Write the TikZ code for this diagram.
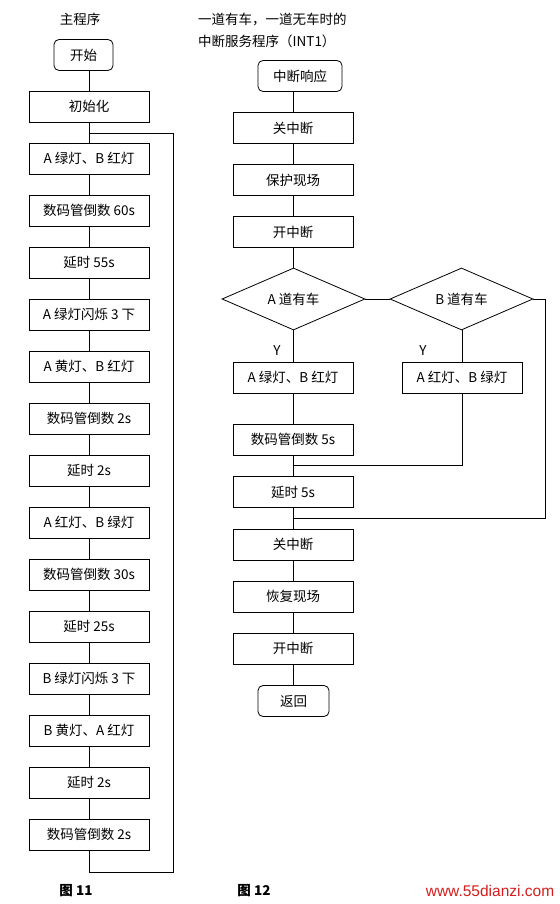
\documentclass[tikz,border=0pt]{standalone}
\usepackage{fontspec}
\setmainfont{Noto Sans CJK SC}
\newfontfamily\webfont{Liberation Sans}
\usetikzlibrary{shapes.geometric}
\definecolor{webred}{RGB}{210,30,30}
\tikzset{
  x=1pt,y=-1pt,
  every node/.style={font=\fontsize{13.5}{15}\selectfont, inner sep=0pt},
  proc/.style={draw, line width=0.8pt, minimum width=120pt, minimum height=31pt},
  term/.style={draw, line width=0.8pt, rounded corners=5pt, minimum height=31pt},
  cond/.style={draw, line width=0.8pt, diamond, aspect=2.3, minimum width=143pt, minimum height=62pt},
  link/.style={line width=0.8pt},
  figcap/.style={font=\fontsize{13.5}{15}\selectfont\bfseries},
}
\begin{document}
\begin{tikzpicture}
\useasboundingbox (0,0) rectangle (559,904);
% ---------- left: main program ----------
\node (t1) at (80,19) {主程序};
\node[term, minimum width=59pt] (start) at (83.5,55) {开始};
\foreach \n/\t [count=\i from 0] in {
  init/初始化,
  l1/A 绿灯、B 红灯,
  l2/数码管倒数 60s,
  l3/延时 55s,
  l4/A 绿灯闪烁 3 下,
  l5/A 黄灯、B 红灯,
  l6/数码管倒数 2s,
  l7/延时 2s,
  l8/A 红灯、B 绿灯,
  l9/数码管倒数 30s,
  l10/延时 25s,
  l11/B 绿灯闪烁 3 下,
  l12/B 黄灯、A 红灯,
  l13/延时 2s,
  l14/数码管倒数 2s}
{
  \node[proc] (\n) at (89,{106.5+52*\i}) {\t};
}
\draw[link] (init.north |- start.south) -- (init.north);
\draw[link] (init) -- (l1);
\foreach \a/\b in {l1/l2,l2/l3,l3/l4,l4/l5,l5/l6,l6/l7,l7/l8,l8/l9,l9/l10,l10/l11,l11/l12,l12/l13,l13/l14}
  \draw[link] (\a) -- (\b);
\coordinate (lbot) at (89,872);
\coordinate (lbr) at (173,872);
\coordinate (ltr) at (173,133);
\coordinate (ltl) at (89,133);
\draw[link] (l14.south) -- (lbot) -- (lbr) -- (ltr) -- (ltl);
\node[figcap] (c1) at (76,891) {图 11};
% ---------- right: interrupt routine ----------
\node[anchor=west] (t2a) at (198,20) {一道有车，一道无车时的};
\node[anchor=west] (t2b) at (198,41) {中断服务程序（INT1）};
\node[term, minimum width=84pt] (resp) at (300,76) {中断响应};
\node[proc] (gz1) at (293,128) {关中断};
\node[proc] (bh) at (293,180) {保护现场};
\node[proc] (kz1) at (293,232) {开中断};
\node[cond] (da) at (293.5,299) {A 道有车};
\node[cond] (db) at (461.5,299) {B 道有车};
\node[proc] (ag) at (293,377.5) {A 绿灯、B 红灯};
\node[proc] (ar) at (462,377.5) {A 红灯、B 绿灯};
\node[proc] (sm5) at (293,439.5) {数码管倒数 5s};
\node[proc] (ys5) at (293,492) {延时 5s};
\node[proc] (gz2) at (293,544.5) {关中断};
\node[proc] (hf) at (293,596.5) {恢复现场};
\node[proc] (kz2) at (293,648.5) {开中断};
\node[term, minimum width=71pt] (ret) at (293.5,701) {返回};
\node (ya) at (277,351) {Y};
\node (yb) at (423,351) {Y};
\draw[link] (gz1.north |- resp.south) -- (gz1.north);
\draw[link] (gz1) -- (bh);
\draw[link] (bh) -- (kz1);
\draw[link] (kz1.south) -- (kz1.south |- da.north);
\draw[link] (da.east) -- (db.west);
\draw[link] (da.south -| ag.north) -- (ag.north);
\draw[link] (db.south -| ar.north) -- (ar.north);
\draw[link] (ag) -- (sm5);
\draw[link] (sm5) -- (ys5);
\draw[link] (ys5) -- (gz2);
\draw[link] (gz2) -- (hf);
\draw[link] (hf) -- (kz2);
\draw[link] (kz2.south) -- (kz2.south |- ret.north);
\coordinate (bj) at (462,465);
\coordinate (bjl) at (293,465);
\draw[link] (ar.south) -- (bj) -- (bjl);
\coordinate (re) at (545,299);
\coordinate (rb) at (545,518);
\coordinate (rbl) at (293,518);
\draw[link] (db.east) -- (re) -- (rb) -- (rbl);
\node[figcap] (c2) at (254,891) {图 12};
\node[font=\webfont\fontsize{15.5}{17}\selectfont, text=webred] (web) at (490,891) {www.55dianzi.com};
\end{tikzpicture}
\end{document}
